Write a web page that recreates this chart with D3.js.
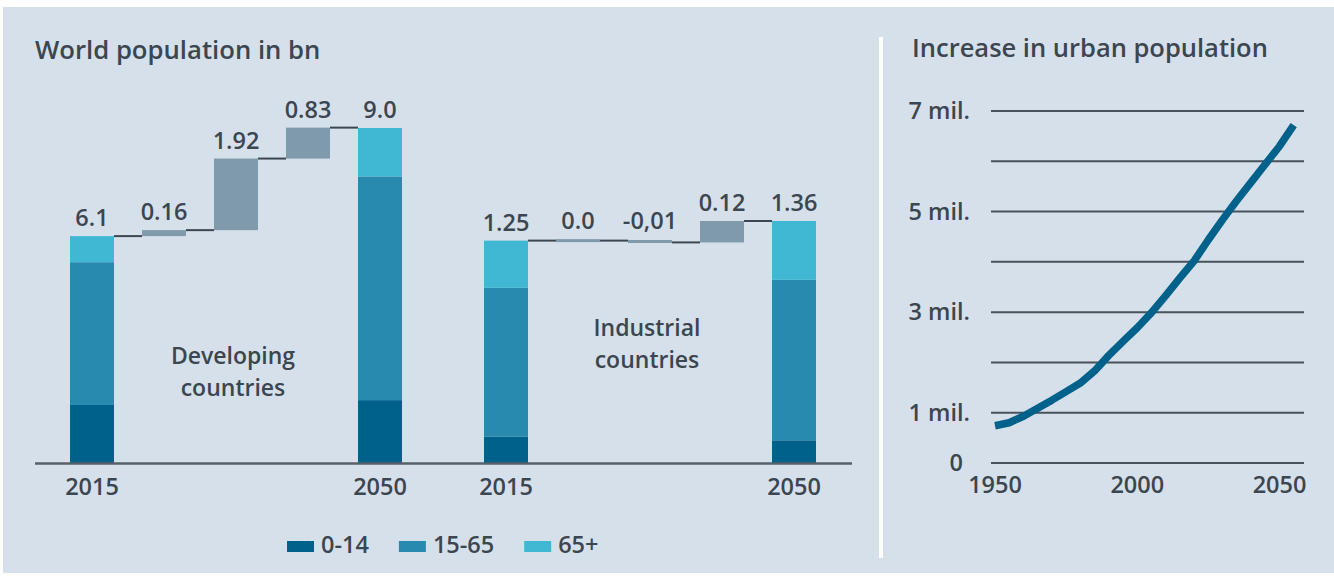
<!DOCTYPE html>
<html><head><meta charset="utf-8">
<script src="https://cdn.jsdelivr.net/npm/d3@7"></script>
<style>
body{margin:0;background:#fff;}
svg{display:block;font-family:"Open Sans",sans-serif;}
</style></head><body>
<svg id="c" width="1334" height="576"></svg>
<script>
// ---------- data ----------
const ageGroups = ["0-14", "15-65", "65+"];
const yearLabels = ["2015", "2050"];
const devStart = [1.57, 3.83, 0.70];      // 2015 developing, by age group
const devEnd = [1.70, 6.00, 1.30];        // 2050 developing
const devTotalLabels = ["6.1", "9.0"];
const devChanges = [0.16, 1.92, 0.83];
const devChangeLabels = ["0.16", "1.92", "0.83"];
const indStart = [0.15, 0.835, 0.265];    // 2015 industrial
const indEnd = [0.13, 0.90, 0.33];        // 2050 industrial
const indTotalLabels = ["1.25", "1.36"];
const indChanges = [0.0, -0.01, 0.12];
const indChangeLabels = ["0.0", "-0,01", "0.12"];
const groupNames = [["Developing", "countries"], ["Industrial", "countries"]];

const urbanYears = [1950,1955,1960,1965,1970,1975,1980,1985,1990,1995,2000,2005,2010,2015,2020,2025,2030,2035,2040,2045,2050,2055];
const urbanValues = [0.74,0.80,0.93,1.09,1.25,1.42,1.59,1.83,2.14,2.42,2.69,2.99,3.33,3.68,4.02,4.44,4.84,5.22,5.58,5.94,6.30,6.72];
const urbanTicks = [0, 1, 2, 3, 4, 5, 6, 7];
const urbanTickLabels = ["0", "1 mil.", "", "3 mil.", "", "5 mil.", "", "7 mil."];
const urbanYearTicks = [1950, 2000, 2050];

// ---------- style ----------
const ageColors = ["#00618a", "#278aae", "#41b8d3"];
const changeColor = "#7e9aab";
const textColor = "#3c4650";
const bg = "#d6e0ea";

const svg = d3.select("#c");
svg.append("rect").attr("x", 3).attr("y", 7).attr("width", 1331).attr("height", 566).attr("fill", bg);
svg.append("rect").attr("x", 879).attr("y", 37).attr("width", 4).attr("height", 521).attr("fill", "#fff");

function txt(g, s, x, y, size, anchor) {
  return g.append("text").attr("x", x).attr("y", y).attr("font-size", size)
    .attr("font-weight", 600).attr("fill", textColor).attr("text-anchor", anchor || "start").text(s);
}

txt(svg, "World population in bn", 35, 59, 25.7);
txt(svg, "Increase in urban population", 912, 57, 25.5);

// ---------- waterfall ----------
const baseY = 463.5;
const left = svg.append("g");

function waterfall(startVals, endVals, changes, changeLabels, totalLabels, rangeX, yTop, name, namePos) {
  const x = d3.scaleBand().domain(d3.range(5)).range(rangeX).paddingInner(28 / 72).paddingOuter(14 / 72);
  const endTotal = d3.sum(endVals);
  const y = d3.scaleLinear().domain([0, endTotal]).range([baseY, yTop]);
  const bw = x.bandwidth();

  // stacked totals
  [[0, startVals], [4, endVals]].forEach(([slot, vals]) => {
    let acc = 0;
    vals.forEach((v, i) => {
      left.append("rect").attr("x", x(slot)).attr("width", bw)
        .attr("y", y(acc + v)).attr("height", y(acc) - y(acc + v)).attr("fill", ageColors[i]);
      acc += v;
    });
  });

  // changes
  let level = d3.sum(startVals);
  const levels = [level];
  const minH = 3;
  changes.forEach((c, i) => {
    const a = y(level), b = y(level + c);
    let top = Math.min(a, b), h = Math.abs(a - b);
    if (h < minH) { top = (a + b) / 2 - minH / 2; h = minH; }
    left.append("rect").attr("x", x(i + 1)).attr("width", bw).attr("y", top).attr("height", h).attr("fill", changeColor);
    level += c;
    levels.push(level);
  });

  // connectors
  levels.forEach((lv, i) => {
    left.append("line").attr("x1", x(i) + bw).attr("x2", x(i + 1))
      .attr("y1", y(lv)).attr("y2", y(lv)).attr("stroke", textColor).attr("stroke-width", 2);
  });

  // value labels
  const tops = [d3.sum(startVals)];
  let lv2 = d3.sum(startVals);
  changes.forEach(c => { tops.push(Math.max(lv2, lv2 + c)); lv2 += c; });
  tops.push(endTotal);
  const labels = [totalLabels[0], ...changeLabels, totalLabels[1]];
  labels.forEach((s, i) => {
    let t = y(tops[i]);
    if (i > 0 && i < 4 && Math.abs(y(levels[i - 1]) - y(levels[i])) < minH) t -= 2;
    txt(left, s, x(i) + bw / 2, t - 10, 23.5, "middle");
  });

  // year labels
  txt(left, yearLabels[0], x(0) + bw / 2, 495, 23.5, "middle");
  txt(left, yearLabels[1], x(4) + bw / 2, 495, 23.5, "middle");

  // group name
  txt(left, name[0], namePos[0], namePos[1], 23, "middle");
  txt(left, name[1], namePos[0], namePos[2], 23, "middle");
}

waterfall(devStart, devEnd, devChanges, devChangeLabels, devTotalLabels, [56, 416], 128, groupNames[0], [233, 364, 396]);
waterfall(indStart, indEnd, indChanges, indChangeLabels, indTotalLabels, [470, 830], 221, groupNames[1], [647, 336, 368]);

left.append("line").attr("x1", 35).attr("x2", 852).attr("y1", baseY).attr("y2", baseY)
  .attr("stroke", "#56606a").attr("stroke-width", 2.5);

// legend
const leg = svg.append("g");
let lx = 287;
ageGroups.forEach((g, i) => {
  leg.append("rect").attr("x", lx).attr("y", 541).attr("width", 27).attr("height", 11).attr("fill", ageColors[i]);
  const t = txt(leg, g, lx + 34, 553, 23.5);
  lx += 34 + t.node().getComputedTextLength() + 30;
});

// ---------- urban line ----------
const xU = d3.scaleLinear().domain([1950, 2050]).range([995, 1279.5]);
const yU = d3.scaleLinear().domain([0, 7]).range([463, 111]);
const right = svg.append("g");
urbanTicks.forEach((t, i) => {
  right.append("line").attr("x1", 991).attr("x2", 1304).attr("y1", yU(t)).attr("y2", yU(t))
    .attr("stroke", "#48525b").attr("stroke-width", 2);
  if (urbanTickLabels[i]) {
    txt(right, urbanTickLabels[i], t === 0 ? 963 : 970, yU(t), 23.5, "end").attr("dy", "0.35em");
  }
});
urbanYearTicks.forEach(yr => txt(right, String(yr), xU(yr), 493, 23.5, "middle"));

const line = d3.line().x((d, i) => xU(urbanYears[i])).y(d => yU(d));
right.append("path").attr("d", line(urbanValues)).attr("fill", "none")
  .attr("stroke", "#00618a").attr("stroke-width", 7.5).attr("stroke-linejoin", "round").attr("stroke-linecap", "butt");
</script>
</body></html>
